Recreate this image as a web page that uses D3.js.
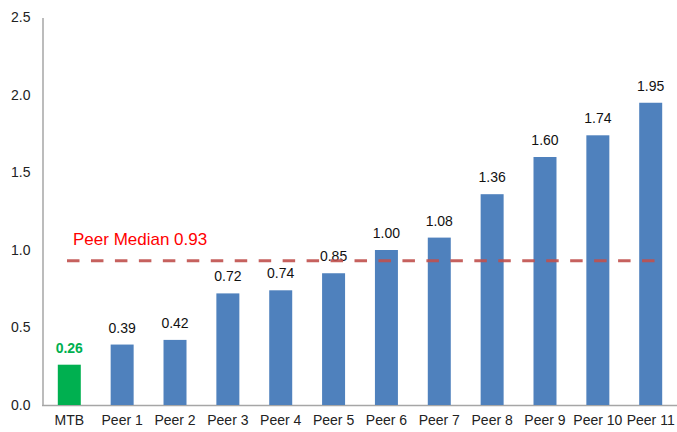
<!DOCTYPE html>
<html>
<head>
<meta charset="utf-8">
<script src="https://cdn.jsdelivr.net/npm/d3@7"></script>
<style>
  html, body { margin: 0; padding: 0; background: #fff; }
  svg { display: block; font-family: "Liberation Sans", Arial, sans-serif; }
</style>
</head>
<body>
<svg id="chart" width="677" height="432"></svg>
<script>
// Ratio per company, sorted ascending; MTB is highlighted.
const categories = ["MTB", "Peer 1", "Peer 2", "Peer 3", "Peer 4", "Peer 5", "Peer 6", "Peer 7", "Peer 8", "Peer 9", "Peer 10", "Peer 11"];
const values = [0.26, 0.39, 0.42, 0.72, 0.74, 0.85, 1.00, 1.08, 1.36, 1.60, 1.74, 1.95];
const yTicks = [0, 0.5, 1.0, 1.5, 2.0, 2.5];
const peerMedian = 0.93;
const medianLabel = "Peer Median 0.93";

const svg = d3.select("#chart");
const x = d3.scaleBand().domain(categories).range([43, 677]).paddingInner(0.565).paddingOuter(0.28);
const y = d3.scaleLinear().domain([0, 2.5]).range([405, 17.5]);

// Y axis: line only, labels at each half unit
const yAxis = svg.append("g").attr("transform", "translate(42.5,0)")
  .call(d3.axisLeft(y).tickValues(yTicks).tickFormat(d3.format(".1f")).tickSize(0).tickPadding(12));
yAxis.select(".domain").attr("stroke", "#a6a6a6").attr("stroke-width", 1.5);
yAxis.selectAll("text").attr("font-size", 14).attr("fill", "#222").attr("font-family", "Liberation Sans, Arial, sans-serif");

// X axis baseline with category labels
const xAxis = svg.append("g").attr("transform", "translate(0,405.5)")
  .call(d3.axisBottom(x).tickSize(0).tickPadding(10));
xAxis.select(".domain").attr("stroke", "#a6a6a6").attr("stroke-width", 1.5).attr("d", "M42,0H677");
xAxis.selectAll("text").attr("font-size", 14).attr("fill", "#222").attr("font-family", "Liberation Sans, Arial, sans-serif");

// Bars
svg.append("g").selectAll("rect").data(values).join("rect")
  .attr("x", (d, i) => x(categories[i]))
  .attr("y", d => y(d))
  .attr("width", x.bandwidth())
  .attr("height", d => y(0) - y(d))
  .attr("fill", (d, i) => i === 0 ? "#00b050" : "#4f81bd");

// Value labels
svg.append("g").selectAll("text").data(values).join("text")
  .attr("x", (d, i) => x(categories[i]) + x.bandwidth() / 2)
  .attr("y", d => y(d) - 12)
  .attr("text-anchor", "middle")
  .attr("font-size", 14)
  .attr("font-weight", (d, i) => i === 0 ? "bold" : "normal")
  .attr("fill", (d, i) => i === 0 ? "#00b050" : "#111")
  .text(d => d.toFixed(2));

// Peer median reference line
svg.append("line")
  .attr("x1", 67).attr("x2", 655)
  .attr("y1", y(peerMedian)).attr("y2", y(peerMedian))
  .attr("stroke", "#c0504d")
  .attr("stroke-opacity", 0.9)
  .attr("stroke-width", 3)
  .attr("stroke-dasharray", "12.5,11.46");

svg.append("text")
  .attr("x", 73).attr("y", y(peerMedian) - 16)
  .attr("font-size", 17)
  .attr("fill", "#ff0000")
  .text(medianLabel);
</script>
</body>
</html>
